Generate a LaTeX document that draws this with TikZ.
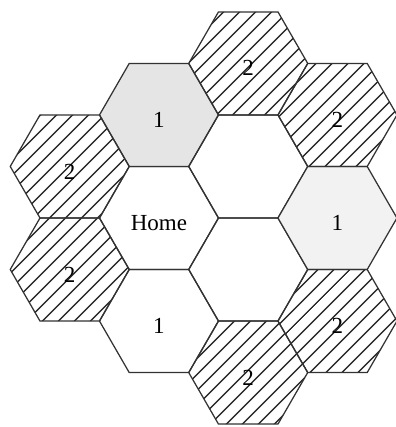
\documentclass[tikz,border=0pt]{standalone}
\usepackage{fontspec}
\setmainfont{Liberation Serif}
\usepackage{tikz}
\usetikzlibrary{shapes.geometric,patterns.meta}
\definecolor{CellLine}{gray}{0.2}
\definecolor{CellGray}{gray}{0.9}
\definecolor{CellLight}{gray}{0.95}

\begin{document}
\begin{tikzpicture}[
    hexcell/.style={regular polygon, regular polygon sides=6, minimum size=2cm,
        inner sep=0pt, outer sep=0pt, draw=CellLine, line width=0.6pt,
        text height=12pt, text depth=0pt,
        font=\fontsize{11}{13}\selectfont},
    hatched/.style={hexcell, pattern={Lines[angle=45, distance=5.4pt, line width=0.7pt]},
        pattern color=CellLine}]
        \useasboundingbox (-2.672, -3.513) rectangle (3.983, 3.664);

        % centre ring
        \node[hexcell] (home) at (0, 0) {Home};
        \node[hexcell, fill=CellGray] (n1) at (0, 1.732) {1};
        \node[hexcell] (s1) at (0, -1.732) {1};
        \node[hexcell] (ne) at (1.5, 0.866) {};
        \node[hexcell] (se) at (1.5, -0.866) {};
        \node[hexcell, fill=CellLight] (e1) at (3, 0) {1};

        % outer ring
        \node[hatched] (nw2) at (-1.5, 0.866) {2};
        \node[hatched] (sw2) at (-1.5, -0.866) {2};
        \node[hatched] (n2) at (1.5, 2.598) {2};
        \node[hatched] (ne2) at (3, 1.732) {2};
        \node[hatched] (se2) at (3, -1.732) {2};
        \node[hatched] (s2) at (1.5, -2.598) {2};
    \end{tikzpicture}
\end{document}
